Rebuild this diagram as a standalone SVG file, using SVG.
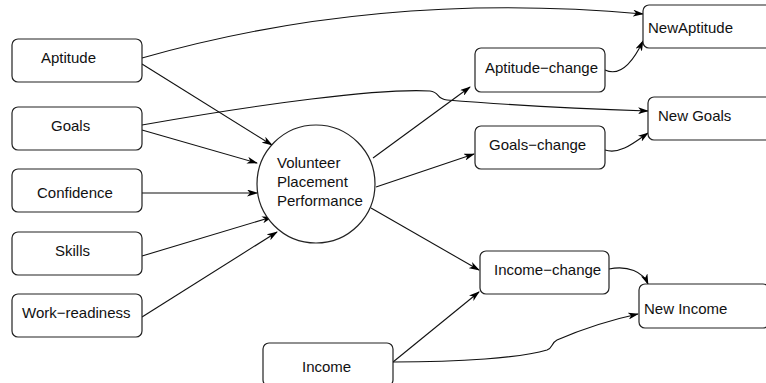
<svg xmlns="http://www.w3.org/2000/svg" width="766" height="383" viewBox="0 0 766 383">
<defs>
<marker id="ah" markerWidth="11" markerHeight="7" refX="10" refY="3.5" orient="auto" markerUnits="userSpaceOnUse">
<path d="M0,0 L11,3.5 L0,7 L3,3.5 Z" fill="#000"/>
</marker>
<style>
.box{fill:#fff;stroke:#222;stroke-width:1.2}
.t{font-family:"Liberation Sans",Arial,sans-serif;font-size:15px;fill:#111}
.e{fill:none;stroke:#111;stroke-width:1.1;marker-end:url(#ah)}
</style>
</defs>
<rect width="766" height="383" fill="#fff"/>
<g id="connectors">
<path class="e" d="M142,58 Q380,-10 643,14"/>
<path class="e" d="M142,64 L272,145"/>
<path class="e" d="M142,125 C260,104 380,88 430,91 C440,92 436,99 447,100 C520,106 590,109 648,111"/>
<path class="e" d="M142,130 L257,163"/>
<path class="e" d="M142,193 L257,193"/>
<path class="e" d="M142,256 L272,217"/>
<path class="e" d="M142,317 L277,232"/>
<path class="e" d="M373,158 L470,87"/>
<path class="e" d="M376,187 L474,154"/>
<path class="e" d="M371,208 L479,270"/>
<path class="e" d="M393,362 L479,292"/>
<path class="e" d="M393,362 C460,362 520,358 547,350 C553,348 551,343 557,340 C580,330 610,320 638,314"/>
<path class="e" d="M605,70 C620,77 633,62 643,41"/>
<path class="e" d="M605,150 C620,155 635,142 648,133"/>
<path class="e" d="M609,269 C628,265 643,272 648,284"/>
</g>
<g id="aptitude"><rect class="box" x="12" y="39" width="130" height="43" rx="6"/><text class="t" x="41" y="63">Aptitude</text></g>
<g id="goals"><rect class="box" x="12" y="107" width="130" height="43" rx="6"/><text class="t" x="51" y="131">Goals</text></g>
<g id="confidence"><rect class="box" x="12" y="169" width="130" height="43" rx="6"/><text class="t" x="37" y="198">Confidence</text></g>
<g id="skills"><rect class="box" x="12" y="232" width="130" height="43" rx="6"/><text class="t" x="55" y="256">Skills</text></g>
<g id="work-readiness"><rect class="box" x="12" y="294" width="130" height="43" rx="6"/><text class="t" x="22" y="318">Work−readiness</text></g>
<g id="vpp"><circle class="box" cx="316" cy="184" r="59"/><text class="t" x="277" y="168">Volunteer</text><text class="t" x="277" y="187">Placement</text><text class="t" x="277" y="206">Performance</text></g>
<g id="aptitude-change"><rect class="box" x="475" y="48" width="130" height="44" rx="6"/><text class="t" x="485" y="73">Aptitude−change</text></g>
<g id="goals-change"><rect class="box" x="475" y="126" width="130" height="43" rx="6"/><text class="t" x="489" y="150">Goals−change</text></g>
<g id="income-change"><rect class="box" x="480" y="251" width="129" height="43" rx="6"/><text class="t" x="494" y="275">Income−change</text></g>
<g id="income"><rect class="box" x="263" y="343" width="130" height="43" rx="6"/><text class="t" x="302" y="372">Income</text></g>
<g id="new-aptitude"><rect class="box" x="643" y="5" width="130" height="43" rx="6"/><text class="t" x="648" y="33">NewAptitude</text></g>
<g id="new-goals"><rect class="box" x="648" y="97" width="130" height="43" rx="6"/><text class="t" x="658" y="121">New Goals</text></g>
<g id="new-income"><rect class="box" x="639" y="284" width="130" height="44" rx="6"/><text class="t" x="644" y="314">New Income</text></g>
</svg>
